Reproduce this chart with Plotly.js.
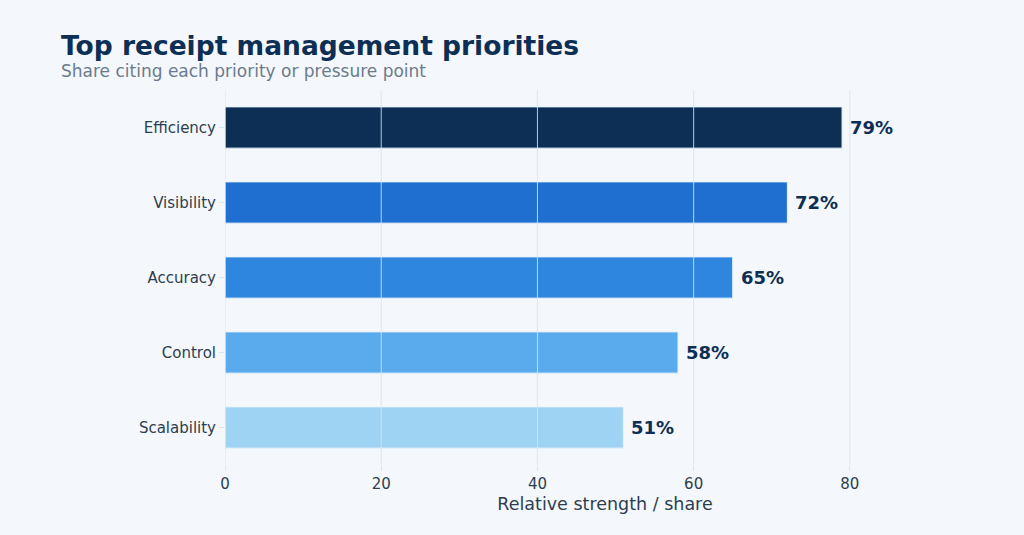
<!DOCTYPE html>
<html><head><meta charset="utf-8">
<script src="https://cdn.plot.ly/plotly-3.0.1.min.js"></script>
<style>html,body{margin:0;padding:0;background:#f4f7fb;}#chart{width:1024px;height:535px;}</style>
</head><body><div id="chart"></div>
<script>
const categories = ["Efficiency", "Visibility", "Accuracy", "Control", "Scalability"];
const values = [79, 72, 65, 58, 51];
const labels = ["79%", "72%", "65%", "58%", "51%"];
const colors = ["#0d2f55", "#1f6fd1", "#2e86de", "#5aabee", "#9fd3f4"];
const xTicks = [0, 20, 40, 60, 80];

const trace = {
  type: 'bar', orientation: 'h',
  x: values, y: categories,
  marker: {color: colors, line: {color: '#eaf2fa', width: 1}},
  width: 0.55, hoverinfo: 'none'
};
const gridShapes = xTicks.map(v => ({
  type: 'line', xref: 'x', yref: 'paper', x0: v, x1: v, y0: 0, y1: 1,
  line: {color: 'rgba(215,228,240,0.85)', width: 1}, layer: 'above'
}));
const valueLabels = values.map((v, i) => ({
  x: v, y: categories[i], xref: 'x', yref: 'y', text: '<b>' + labels[i] + '</b>',
  xanchor: 'left', yanchor: 'middle', xshift: 6, showarrow: false,
  font: {family: 'DejaVu Sans', size: 18, color: '#0d2f55'}
}));
const layout = {
  width: 1024, height: 535,
  paper_bgcolor: '#f4f7fb', plot_bgcolor: '#f4f7fb',
  font: {family: 'DejaVu Sans', color: '#2d3e50'},
  margin: {l: 225, r: 39, t: 90, b: 70},
  title: {text: '<b>Top receipt management priorities</b>',
          x: 0.0595, xanchor: 'left', y: 0.932, yanchor: 'top',
          font: {family: 'DejaVu Sans', size: 26.5, color: '#0d2f55'}},
  annotations: [{text: 'Share citing each priority or pressure point', xref: 'paper', yref: 'paper',
          x: -0.2183, xanchor: 'left', y: 1.0, yanchor: 'bottom', yshift: 7, showarrow: false,
          font: {family: 'DejaVu Sans', size: 17, color: '#6b7b8c'}}].concat(valueLabels),
  shapes: gridShapes,
  xaxis: {range: [0, 97.3], tickvals: xTicks, showgrid: false,
          zeroline: false,
          ticks: 'outside', ticklen: 5, tickcolor: '#dae5ef',
          tickfont: {size: 15, color: '#2d3e50'},
          title: {text: 'Relative strength / share', font: {size: 17.5, color: '#2d3e50'}, standoff: 5}},
  yaxis: {autorange: 'reversed', showgrid: false, ticks: 'outside', ticklen: 5, tickcolor: '#dae5ef',
          tickfont: {size: 15, color: '#2d3e50'}},
  showlegend: false
};
Plotly.newPlot('chart', [trace], layout, {displayModeBar: false, staticPlot: true});
</script></body></html>
